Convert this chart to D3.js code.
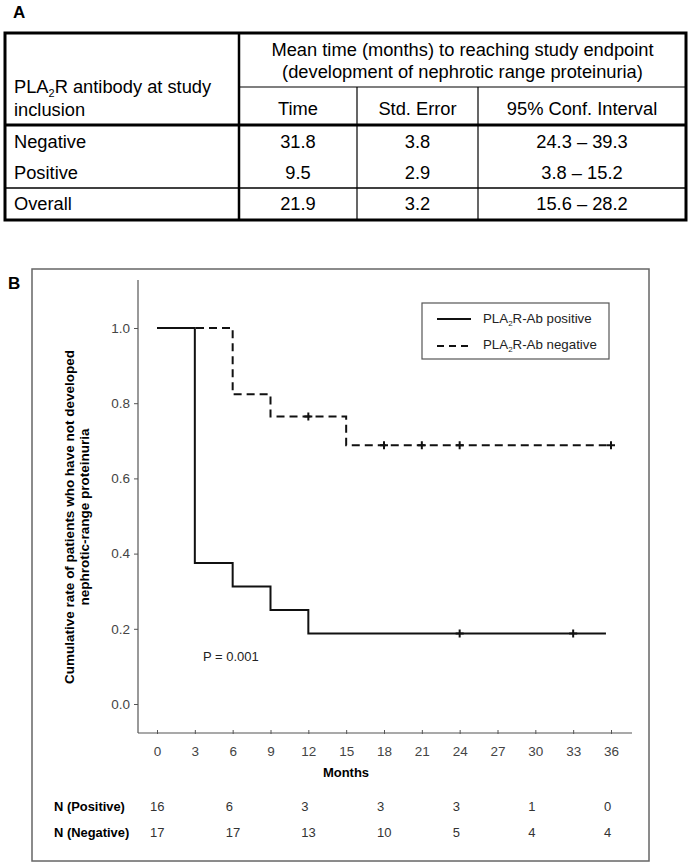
<!DOCTYPE html>
<html>
<head>
<meta charset="utf-8">
<script src="https://cdn.jsdelivr.net/npm/d3@7"></script>
<style>
  body { margin: 0; background: #fff; }
  svg text { font-family: "Liberation Sans", Arial, sans-serif; }
</style>
</head>
<body>
<script>
// table data
const GROUPS = ['Negative', 'Positive', 'Overall'];
const MEAN_TIME = [31.8, 9.5, 21.9];
const STD_ERR = [3.8, 2.9, 3.2];
const CI_LOW = [24.3, 3.8, 15.6];
const CI_HIGH = [39.3, 15.2, 28.2];

// survival curves
const POS_TIMES = [0, 3, 6, 9, 12, 35.6];
const POS_SURV = [1, 0.375, 0.3125, 0.25, 0.1875, 0.1875];
const POS_CENSOR = [24, 33];
const NEG_TIMES = [0, 6, 9, 15, 36];
const NEG_SURV = [1, 0.8235, 0.7647, 0.6882, 0.6882];
const NEG_CENSOR = [12, 18, 21, 24, 36];

const X_TICKS = d3.range(0, 37, 3);
const Y_TICKS = [0, 0.2, 0.4, 0.6, 0.8, 1.0];

// numbers at risk
const RISK_MONTHS = [0, 6, 12, 18, 24, 30, 36];
const N_POS = [16, 6, 3, 3, 3, 1, 0];
const N_NEG = [17, 17, 13, 10, 5, 4, 4];

const W = 690, H = 864;
const svg = d3.select('body').append('svg').attr('width', W).attr('height', H);

// helper for PLA2R with subscript
function pla2r(sel, rest, size) {
    sel.append('tspan').text('PLA');
    sel.append('tspan').text('2').attr('font-size', size * 0.6).attr('dy', size * 0.2);
    sel.append('tspan').text(rest).attr('dy', -size * 0.2);
}

// ---------- Panel A : table ----------
const T = {L: 5, R: 686, TOP: 33, BOT: 220, DIV: 239};
const colX = [T.DIV, 357, 478, T.R];
const rowY = [142, 173, 204];
const tFont = 18.3;

svg.append('text').text('A')
    .attr('x', 13).attr('y', 18)
    .attr('font-weight', 'bold').attr('font-size', 17);

const table = svg.append('g').attr('class', 'table');

// lines
table.append('line').attr('x1', T.DIV).attr('x2', T.R).attr('y1', 87).attr('y2', 87)
    .attr('stroke', '#000').attr('stroke-width', 1.2);
[colX[1], colX[2]].forEach(x => {
    table.append('line').attr('x1', x).attr('x2', x).attr('y1', 87).attr('y2', T.BOT)
        .attr('stroke', '#000').attr('stroke-width', 1.2);
});
table.append('line').attr('x1', T.L).attr('x2', T.R).attr('y1', 188).attr('y2', 188)
    .attr('stroke', '#000').attr('stroke-width', 1.3);
table.append('line').attr('x1', T.L).attr('x2', T.R).attr('y1', 125).attr('y2', 125)
    .attr('stroke', '#000').attr('stroke-width', 3);
table.append('line').attr('x1', T.DIV).attr('x2', T.DIV).attr('y1', T.TOP).attr('y2', T.BOT)
    .attr('stroke', '#000').attr('stroke-width', 2.5);
table.append('rect').attr('x', T.L).attr('y', T.TOP)
    .attr('width', T.R - T.L).attr('height', T.BOT - T.TOP)
    .attr('fill', 'none').attr('stroke', '#000').attr('stroke-width', 3);

// header
const midHead = (T.DIV + T.R) / 2;
table.append('text').text('Mean time (months) to reaching study endpoint')
    .attr('x', midHead).attr('y', 56).attr('text-anchor', 'middle').attr('font-size', tFont);
table.append('text').text('(development of nephrotic range proteinuria)')
    .attr('x', midHead).attr('y', 78).attr('text-anchor', 'middle').attr('font-size', tFont);
pla2r(table.append('text').attr('x', 14).attr('y', 93).attr('font-size', tFont), 'R antibody at study', tFont);
table.append('text').text('inclusion').attr('x', 14).attr('y', 116).attr('font-size', tFont);

const subHeads = ['Time', 'Std. Error', '95% Conf. Interval'];
subHeads.forEach((h, i) => {
    table.append('text').text(h)
        .attr('x', (colX[i] + colX[i + 1]) / 2).attr('y', 115)
        .attr('text-anchor', 'middle').attr('font-size', tFont);
});

// body rows
GROUPS.forEach((g, i) => {
    const y = rowY[i] + 6;
    table.append('text').text(g).attr('x', 14).attr('y', y).attr('font-size', tFont);
    const cells = [MEAN_TIME[i].toFixed(1), STD_ERR[i].toFixed(1),
        CI_LOW[i].toFixed(1) + ' \u2013 ' + CI_HIGH[i].toFixed(1)];
    cells.forEach((c, j) => {
        table.append('text').text(c)
            .attr('x', (colX[j] + colX[j + 1]) / 2).attr('y', y)
            .attr('text-anchor', 'middle').attr('font-size', tFont);
    });
});

// ---------- Panel B : Kaplan-Meier ----------
svg.append('text').text('B')
    .attr('x', 8).attr('y', 289)
    .attr('font-weight', 'bold').attr('font-size', 17);

svg.append('rect').attr('x', 32).attr('y', 269).attr('width', 617).attr('height', 592)
    .attr('fill', 'none').attr('stroke', '#666').attr('stroke-width', 1.5);

const x = d3.scaleLinear().domain([0, 36]).range([157, 611]);
const y = d3.scaleLinear().domain([0, 1]).range([704, 328]);
const AX = {X: 138, Y: 733, TOP: 280, RIGHT: 632};
const axisColor = '#555';

const plot = svg.append('g');

// y axis
plot.append('line').attr('x1', AX.X).attr('x2', AX.X).attr('y1', AX.TOP).attr('y2', AX.Y)
    .attr('stroke', axisColor).attr('stroke-width', 1.2);
const yAxis = d3.axisLeft(y).tickValues(Y_TICKS).tickFormat(d3.format('.1f'))
    .tickSize(4).tickSizeOuter(0).tickPadding(4);
const yg = plot.append('g').attr('transform', 'translate(' + AX.X + ',0)').call(yAxis);
yg.select('.domain').remove();
yg.selectAll('line').attr('stroke', axisColor);
yg.selectAll('text').attr('font-size', 13.5).attr('fill', '#444')
    .attr('font-family', '"Liberation Sans", Arial, sans-serif');

// x axis
plot.append('line').attr('x1', AX.X).attr('x2', AX.RIGHT).attr('y1', AX.Y).attr('y2', AX.Y)
    .attr('stroke', axisColor).attr('stroke-width', 1.2);
const xAxis = d3.axisBottom(x).tickValues(X_TICKS).tickSize(4).tickSizeOuter(0).tickPadding(9);
const xg = plot.append('g').attr('transform', 'translate(0,' + AX.Y + ')').call(xAxis);
xg.select('.domain').remove();
xg.selectAll('line').attr('stroke', axisColor).attr('y1', -3).attr('y2', 1);
xg.selectAll('text').attr('font-size', 13.5).attr('fill', '#444')
    .attr('font-family', '"Liberation Sans", Arial, sans-serif');

plot.append('text').text('Months')
    .attr('x', 346).attr('y', 777).attr('text-anchor', 'middle')
    .attr('font-weight', 'bold').attr('font-size', 13);

// y title
const yt = plot.append('text')
    .attr('transform', 'translate(74,' + 517 + ') rotate(-90)')
    .attr('text-anchor', 'middle').attr('font-weight', 'bold').attr('font-size', 13.5);
yt.append('tspan').text('Cumulative rate of patients who have not developed').attr('x', 0).attr('dy', 0);
yt.append('tspan').text('nephrotic-range proteinuria').attr('x', 0).attr('dy', 15);

// step curves
const stepLine = d3.line().x(d => x(d[0])).y(d => y(d[1])).curve(d3.curveStepAfter);
const negData = NEG_TIMES.map((t, i) => [t, NEG_SURV[i]]);
const posData = POS_TIMES.map((t, i) => [t, POS_SURV[i]]);

plot.append('path').datum(negData).attr('d', stepLine)
    .attr('fill', 'none').attr('stroke', '#111').attr('stroke-width', 2)
    .attr('stroke-dasharray', '8,5');
plot.append('path').datum(posData).attr('d', stepLine)
    .attr('fill', 'none').attr('stroke', '#111').attr('stroke-width', 2);

// censor marks
const survAt = (times, surv, t) => {
    let v = surv[0];
    times.forEach((tt, i) => { if (tt <= t) v = surv[i]; });
    return v;
};
function censor(list, times, surv) {
    plot.selectAll(null).data(list).enter().append('path')
        .attr('d', d => {
            const cx = x(d), cy = y(survAt(times, surv, d));
            return 'M' + (cx - 4) + ',' + cy + 'H' + (cx + 4) + 'M' + cx + ',' + (cy - 4) + 'V' + (cy + 4);
        })
        .attr('stroke', '#111').attr('stroke-width', 2);
}
censor(NEG_CENSOR, NEG_TIMES, NEG_SURV);
censor(POS_CENSOR, POS_TIMES, POS_SURV);

// p value
plot.append('text').text('P = 0.001')
    .attr('x', 203).attr('y', 661).attr('font-size', 13).attr('fill', '#222');

// legend
const lg = plot.append('g');
lg.append('rect').attr('x', 422).attr('y', 303).attr('width', 187).attr('height', 56)
    .attr('fill', '#fff').attr('stroke', '#555').attr('stroke-width', 1.2);
lg.append('line').attr('x1', 437).attr('x2', 471).attr('y1', 319).attr('y2', 319)
    .attr('stroke', '#111').attr('stroke-width', 2);
lg.append('line').attr('x1', 437).attr('x2', 471).attr('y1', 346).attr('y2', 346)
    .attr('stroke', '#111').attr('stroke-width', 2).attr('stroke-dasharray', '7,5');
pla2r(lg.append('text').attr('x', 483).attr('y', 323).attr('font-size', 13.3).attr('fill', '#222'), 'R-Ab positive', 13.3);
pla2r(lg.append('text').attr('x', 483).attr('y', 349).attr('font-size', 13.3).attr('fill', '#222'), 'R-Ab negative', 13.3);

// numbers at risk
const risk = svg.append('g');
risk.append('text').text('N (Positive)').attr('x', 54).attr('y', 811)
    .attr('font-weight', 'bold').attr('font-size', 12.9);
risk.append('text').text('N (Negative)').attr('x', 54).attr('y', 837)
    .attr('font-weight', 'bold').attr('font-size', 12.9);
[[N_POS, 811], [N_NEG, 837]].forEach(([vals, ty]) => {
    risk.selectAll(null).data(vals).enter().append('text')
        .text(d => d)
        .attr('x', (d, i) => x(RISK_MONTHS[i]) - 7)
        .attr('y', ty).attr('font-size', 13).attr('fill', '#333');
});
</script>
</body>
</html>
